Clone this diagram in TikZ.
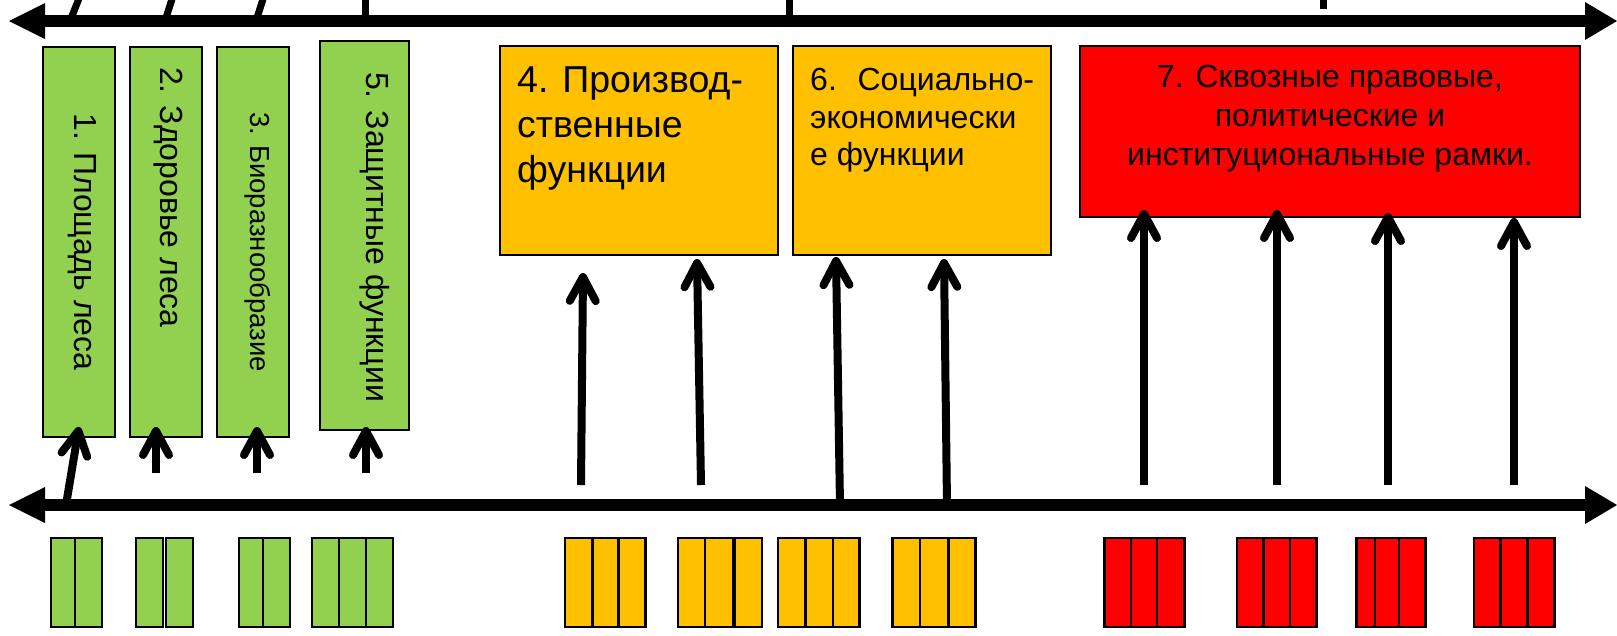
\documentclass[tikz,border=0pt]{standalone}
\usepackage{fontspec}
\setmainfont{Liberation Sans}
\usetikzlibrary{arrows.meta}
\definecolor{fgreen}{HTML}{92D050}
\definecolor{fyellow}{HTML}{FFC000}
\definecolor{fred}{HTML}{FF0000}
\begin{document}
\begin{tikzpicture}[x=1pt,y=-1pt,
  box/.style={draw=black, line width=2pt, inner sep=0pt, outer sep=0pt, anchor=north west},
  cell/.style={draw=black, line width=2.5pt},
  axisline/.style={line width=12pt, {Triangle[length=36pt,width=36pt,line width=0pt]}-{Triangle[length=32pt,width=38pt,line width=0pt]}},
  uparrow/.style={line width=8pt, -{Straight Barb[length=24pt,width=26pt,round]}},
  upline/.style={line width=7pt},
  vtext/.style={rotate=-90, inner sep=0pt, font=\fontsize{32}{38}\selectfont},
  btext/.style={inner sep=0pt, font=\fontsize{32}{37.5}\selectfont}
]
\useasboundingbox (0,0) rectangle (1617,635);

% boxes
\node[box, fill=fgreen, minimum width=72pt, minimum height=390pt] (b1) at (43,47) {};
\node[box, fill=fgreen, minimum width=72pt, minimum height=390pt] (b2) at (130,47) {};
\node[box, fill=fgreen, minimum width=72pt, minimum height=390pt] (b3) at (217,47) {};
\node[box, fill=fgreen, minimum width=89pt, minimum height=389pt] (b5) at (320,41) {};
\node[box, fill=fyellow, minimum width=278pt, minimum height=209pt] (b4) at (500,46) {};
\node[box, fill=fyellow, minimum width=258pt, minimum height=209pt] (b6) at (793,46) {};
\node[box, fill=fred, minimum width=500pt, minimum height=171pt] (b7) at (1080,46) {};

% texts
\node[vtext] (t1) at (82,242) {1. Площадь леса};
\node[vtext, anchor=west] (t2) at (168,67) {2. Здоровье леса};
\node[vtext, font=\fontsize{27.5}{33}\selectfont] (t3) at (258,242) {3. Биоразнообразие};
\node[vtext, anchor=west] (t5) at (375,72) {5. Защитные функции};
\node[inner sep=0pt, anchor=north west, align=left, font=\fontsize{37.5}{45}\selectfont] (t4) at (517,66) {4. Производ-\\ственные\\функции};
\node[btext, anchor=north west, align=left] (t6) at (810,68) {6.~ Социально-\\экономически\\е функции};
\node[btext, anchor=north, align=center, font=\fontsize{32}{39}\selectfont] (t7) at (1330,65) {7. Сквозные правовые,\\политические и\\институциональные рамки.};

% lines above the top axis
\coordinate (u1a) at (70,21);  \coordinate (u1b) at (80,-4);
\coordinate (u2a) at (165,21); \coordinate (u2b) at (173,-4);
\coordinate (u3a) at (256,21); \coordinate (u3b) at (264,-4);
\coordinate (u4a) at (365,21); \coordinate (u4b) at (365,-4);
\coordinate (u5a) at (789,21); \coordinate (u5b) at (789,-4);
\coordinate (u6a) at (1323,9); \coordinate (u6b) at (1323,-4);
\foreach \i in {1,...,6} \draw[upline] (u\i a) -- (u\i b);

% axes
\coordinate (tl) at (9,21);  \coordinate (tr) at (1617,21);
\coordinate (bl) at (9,505); \coordinate (br) at (1617,505);
\draw[axisline] (tl) -- (tr);
\draw[axisline] (bl) -- (br);

% arrows
\coordinate (s1) at (66,505);  \coordinate (e1) at (79,427);
\coordinate (s2) at (156,473); \coordinate (e2) at (156,427);
\coordinate (s3) at (257,473); \coordinate (e3) at (257,427);
\coordinate (s4) at (366,473); \coordinate (e4) at (366,427);
\coordinate (s5) at (581,485); \coordinate (e5) at (583,273);
\coordinate (s6) at (701,485); \coordinate (e6) at (697,259);
\coordinate (s7) at (840,505); \coordinate (e7) at (836,257);
\coordinate (s8) at (947,505); \coordinate (e8) at (944,259);
\coordinate (s9) at (1144,485); \coordinate (e9) at (1144,210);
\coordinate (s10) at (1277,485); \coordinate (e10) at (1277,210);
\coordinate (s11) at (1388,485); \coordinate (e11) at (1388,213);
\coordinate (s12) at (1514,485); \coordinate (e12) at (1514,218);
\foreach \i in {1,...,12} \draw[uparrow] (s\i) -- (e\i);

% bottom cells
\foreach \a/\b in {51/75,75/102,136/163,166/193,239/263,263/290,312/339,339/366,366/393}
  \draw[cell, fill=fgreen] (\a,538) rectangle (\b,627);
\foreach \a/\b in {565/592.5,592.5/618.6,618.6/645.4,678/705,705/733,735/762,778/805.7,805.7/832.9,832.9/859.6,892.5/920,920/948.6,948.6/975.7}
  \draw[cell, fill=fyellow] (\a,538) rectangle (\b,627);
\foreach \a/\b in {1104.4/1130.9,1130.9/1157,1157/1184.3,1236.9/1263.4,1263.4/1290.2,1290.2/1316.7,1356.5/1374.9,1374.9/1398.8,1398.8/1425.6,1474.2/1500.7,1500.7/1527.6,1527.6/1554.4}
  \draw[cell, fill=fred] (\a,538) rectangle (\b,627);
\end{tikzpicture}
\end{document}
